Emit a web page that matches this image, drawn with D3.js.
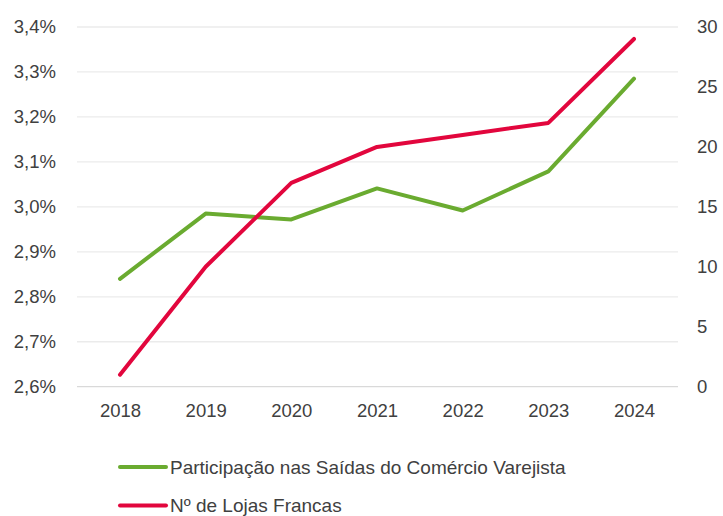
<!DOCTYPE html>
<html>
<head>
<meta charset="utf-8">
<script src="https://cdn.jsdelivr.net/npm/d3@7"></script>
<style>
  body { margin: 0; background: #fff; }
  svg { display: block; font-family: 'Liberation Sans', Arial, sans-serif; }
</style>
</head>
<body>
<div id="chart"></div>
<script>
// data
const years = ['2018', '2019', '2020', '2021', '2022', '2023', '2024']
const participacao = [2.84, 2.985, 2.972, 3.041, 2.992, 3.079, 3.285]
const lojas = [1, 10, 17, 20, 21, 22, 29]
const leftTicks = [2.6, 2.7, 2.8, 2.9, 3.0, 3.1, 3.2, 3.3, 3.4]
const rightTicks = [0, 5, 10, 15, 20, 25, 30]
const seriesNames = ['Participação nas Saídas do Comércio Varejista', 'Nº de Lojas Francas']
const colors = ['#6AAB30', '#E2063D']

const width = 723
const height = 516
const margin = { top: 27, right: 45, bottom: 129, left: 77 }

const svg = d3.select('#chart').append('svg')
  .attr('width', width)
  .attr('height', height)

const x = d3.scalePoint()
  .domain(years)
  .range([120, 634])

const yLeft = d3.scaleLinear()
  .domain([2.6, 3.4])
  .range([height - margin.bottom - 0.3, margin.top])

const yRight = d3.scaleLinear()
  .domain([0, 30])
  .range([height - margin.bottom - 0.3, margin.top])

// gridlines
svg.append('g')
  .selectAll('line')
  .data(leftTicks)
  .enter()
  .append('line')
  .attr('x1', margin.left)
  .attr('x2', width - margin.right)
  .attr('y1', d => yLeft(d))
  .attr('y2', d => yLeft(d))
  .attr('stroke', (d, i) => i === 0 ? '#d9d9d9' : '#ebebeb')
  .attr('stroke-width', 1.3)

const fmt = d => d.toFixed(1).replace('.', ',') + '%'

// left axis
const leftAxis = svg.append('g')
  .attr('transform', 'translate(56,0)')
  .call(d3.axisLeft(yLeft).tickValues(leftTicks).tickFormat(fmt).tickSize(0).tickPadding(0))
leftAxis.select('.domain').remove()
leftAxis.selectAll('text')
  .attr('fill', '#404040')
  .style('font-size', '18.5px')

// right axis
const rightAxis = svg.append('g')
  .attr('transform', 'translate(697,0)')
  .call(d3.axisRight(yRight).tickValues(rightTicks).tickSize(0).tickPadding(0))
rightAxis.select('.domain').remove()
rightAxis.selectAll('text')
  .attr('fill', '#404040')
  .style('font-size', '18.5px')

// bottom axis
const bottomAxis = svg.append('g')
  .attr('transform', `translate(0,${height - margin.bottom})`)
  .call(d3.axisBottom(x).tickSize(0).tickPadding(17))
bottomAxis.select('.domain').remove()
bottomAxis.selectAll('text')
  .attr('fill', '#404040')
  .style('font-size', '18.5px')

// lines
const lineLeft = d3.line()
  .x((d, i) => x(years[i]))
  .y(d => yLeft(d))

const lineRight = d3.line()
  .x((d, i) => x(years[i]))
  .y(d => yRight(d))

svg.append('path')
  .datum(participacao)
  .attr('fill', 'none')
  .attr('stroke', colors[0])
  .attr('stroke-width', 4)
  .attr('stroke-linejoin', 'round')
  .attr('stroke-linecap', 'round')
  .attr('d', lineLeft)

svg.append('path')
  .datum(lojas)
  .attr('fill', 'none')
  .attr('stroke', colors[1])
  .attr('stroke-width', 4)
  .attr('stroke-linejoin', 'round')
  .attr('stroke-linecap', 'round')
  .attr('d', lineRight)

// legend
const legend = svg.append('g')
  .selectAll('g')
  .data(seriesNames)
  .enter()
  .append('g')
  .attr('transform', (d, i) => `translate(120,${467 + i * 38.5})`)

legend.append('line')
  .attr('x1', 0)
  .attr('x2', 46)
  .attr('stroke', (d, i) => colors[i])
  .attr('stroke-width', 4)
  .attr('stroke-linecap', 'round')

legend.append('text')
  .attr('x', 50)
  .attr('dy', '0.35em')
  .attr('fill', '#404040')
  .style('font-size', '19px')
  .text(d => d)
</script>
</body>
</html>
